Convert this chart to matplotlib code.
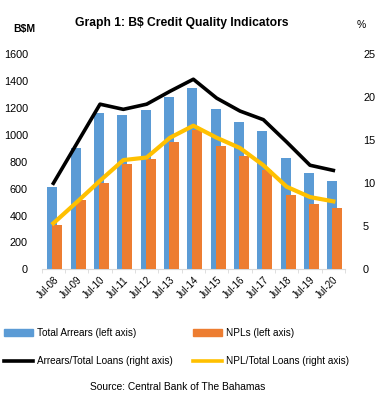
import matplotlib
matplotlib.use("Agg")
import matplotlib.pyplot as plt
from matplotlib.patches import Patch
from matplotlib.lines import Line2D
import numpy as np

plt.rcParams['font.family'] = ['Liberation Sans', 'DejaVu Sans']

cats = ['Jul-08', 'Jul-09', 'Jul-10', 'Jul-11', 'Jul-12', 'Jul-13', 'Jul-14',
        'Jul-15', 'Jul-16', 'Jul-17', 'Jul-18', 'Jul-19', 'Jul-20']
arrears = [610, 900, 1160, 1150, 1185, 1285, 1350, 1195, 1095, 1030, 830, 720, 658]
npls = [330, 513, 640, 786, 821, 950, 1034, 915, 841, 740, 551, 486, 456]
arrears_ratio = [10.0, 14.6, 19.2, 18.6, 19.2, 20.7, 22.1, 19.9, 18.4, 17.4, 14.8, 12.1, 11.5]
npl_ratio = [5.35, 7.8, 10.3, 12.7, 13.0, 15.3, 16.7, 15.3, 14.1, 12.1, 9.6, 8.4, 7.9]

blue = '#5B9BD5'
orange = '#ED7D31'
yellow = '#FFC000'

W, H = 377, 404
fig = plt.figure(figsize=(W / 100, H / 100), dpi=100)
ax = fig.add_axes([41.7 / W, 1 - 269.3 / H, (345 - 41.7) / W, (269.3 - 54.3) / H])
ax2 = ax.twinx()

x = np.arange(len(cats))
bw = 0.43
ax.bar(x - 0.26, arrears, width=bw, align='edge', color=blue, zorder=2)
ax.bar(x - 0.04, npls, width=bw, align='edge', color=orange, zorder=3)

ax2.plot(x, arrears_ratio, color='black', lw=2.6)
ax2.plot(x, npl_ratio, color=yellow, lw=3.0)

ax.set_xlim(-0.5, len(cats) - 0.5)
ax.set_ylim(0, 1600)
ax2.set_ylim(0, 25)
ax.set_yticks(range(0, 1601, 200))
ax2.set_yticks(range(0, 26, 5))

for a in (ax, ax2):
    for s in ('top', 'left', 'right'):
        a.spines[s].set_visible(False)
    a.spines['bottom'].set_color('#D9D9D9')
ax2.spines['bottom'].set_visible(False)

ax.tick_params(axis='y', length=0, pad=10, labelsize=7.8)
ax2.tick_params(axis='y', length=0, pad=13, labelsize=7.8)
ax.set_xticks(x)
ax.set_xticklabels(cats, rotation=45, ha='right', rotation_mode='anchor', fontsize=7)
ax.tick_params(axis='x', length=0, pad=4)
ax.set_xticks(np.arange(-0.5, len(cats)), minor=True)
ax.tick_params(axis='x', which='minor', length=3, color='#D9D9D9', direction='out')

fig.text(182 / W, 1 - 23 / H, 'Graph 1: B$ Credit Quality Indicators',
         ha='center', va='center', fontsize=8.7, fontweight='bold')
fig.text(24 / W, 1 - 29 / H, 'B$M', ha='center', va='center', fontsize=7.5, fontweight='bold')
fig.text(361 / W, 1 - 25 / H, '%', ha='center', va='center', fontsize=7.5)

handles = [Patch(color=blue), Line2D([], [], color='black', lw=2.6),
           Patch(color=orange), Line2D([], [], color=yellow, lw=2.6)]
labels = ['Total Arrears (left axis)', 'Arrears/Total Loans (right axis)',
          'NPLs (left axis)', 'NPL/Total Loans (right axis)']
fig.legend(handles, labels, ncol=2, loc='upper left', bbox_to_anchor=(4 / W, 1 - 328 / H),
           frameon=False, fontsize=7.2, handlelength=2.9, handletextpad=0.4,
           columnspacing=2.0, labelspacing=1.8, borderpad=0, borderaxespad=0)

fig.text(178 / W, 1 - 386.7 / H, 'Source: Central Bank of The Bahamas',
         ha='center', va='center', fontsize=7.4)

fig.savefig('out.png', dpi=100)
